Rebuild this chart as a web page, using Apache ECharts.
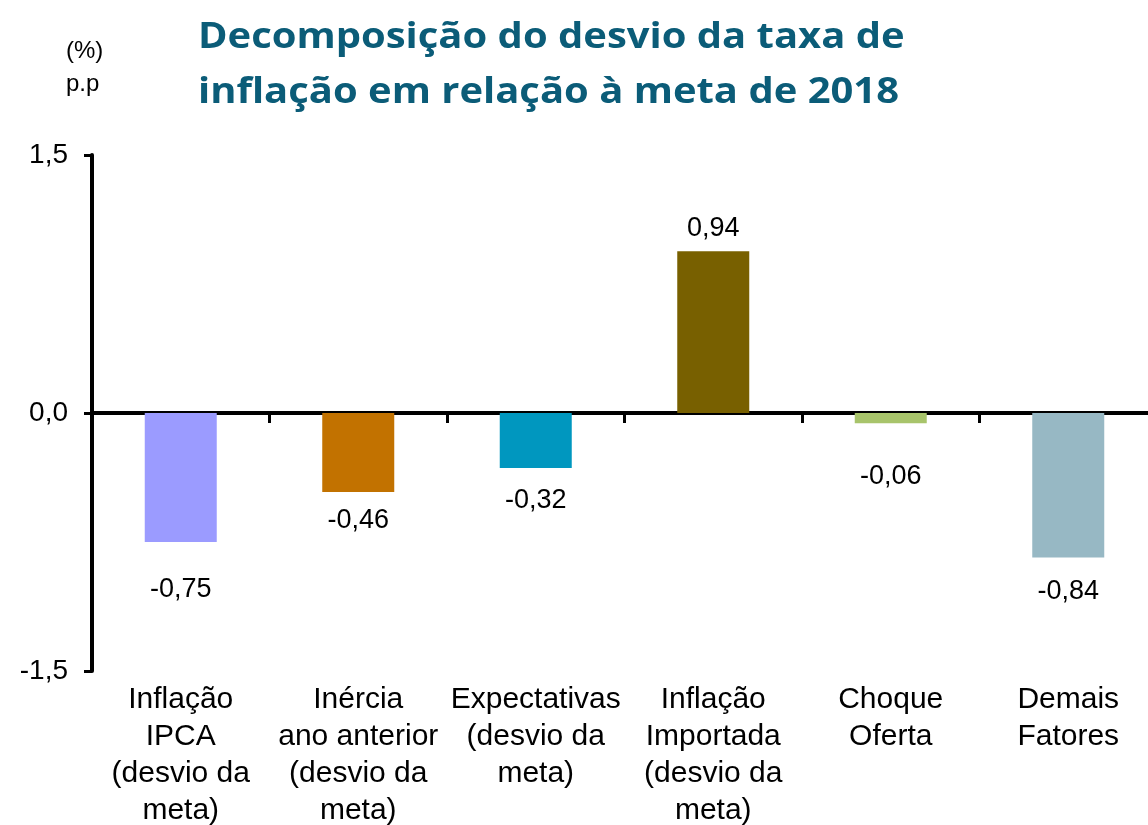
<!DOCTYPE html>
<html>
<head>
<meta charset="utf-8">
<script src="https://cdn.jsdelivr.net/npm/echarts@6/dist/echarts.min.js"></script>
<style>
  html, body { margin: 0; padding: 0; background: #fff; }
  #chart { width: 1148px; height: 825px; }
</style>
</head>
<body>
<div id="chart"></div>
<script>
// Decomposition of the 2018 inflation deviation from target, in p.p.
const categories = [
  'Inflação\nIPCA\n(desvio da\nmeta)',
  'Inércia\nano anterior\n(desvio da\nmeta)',
  'Expectativas\n(desvio da\nmeta)',
  'Inflação\nImportada\n(desvio da\nmeta)',
  'Choque\nOferta',
  'Demais\nFatores'
];
const values = [-0.75, -0.46, -0.32, 0.94, -0.06, -0.84];
const barColors = ['#9B9BFF', '#C27200', '#0097BF', '#786000', '#A8C46B', '#97B8C4'];
// gap between each bar end and its value label
const labelGaps = [34, 15, 19, 9, 40, 21];
const yTicks = [-1.5, 0, 1.5];
const titleText = 'Decomposição do desvio da taxa de\ninflação em relação à meta de 2018';

const fmt = v => v.toFixed(2).replace('.', ',');
const baseFont = 'Liberation Sans, Arial, sans-serif';

const chart = echarts.init(document.getElementById('chart'), null, { renderer: 'canvas' });

chart.setOption({
  backgroundColor: '#ffffff',
  animation: false,
  graphic: [{
    // title, slightly widened
    type: 'text',
    x: 198,
    y: 10,
    scaleX: 1.11,
    style: {
      text: titleText,
      font: 'bold 36px "Open Sans", Lato, sans-serif',
      lineHeight: 55,
      fill: '#0B5C78',
      align: 'left',
      verticalAlign: 'top'
    }
  }, {
    type: 'text',
    left: 66,
    top: 35,
    style: {
      text: '(%)\np.p',
      font: '24px ' + baseFont,
      lineHeight: 33,
      align: 'center',
      fill: '#000'
    }
  }],
  grid: { left: 92, right: -9, top: 155, bottom: 154, containLabel: false, outerBoundsMode: 'none' },
  xAxis: [{
    type: 'category',
    data: categories,
    position: 'bottom',
    axisLine: { show: false, onZero: false },
    axisTick: { show: false },
    axisLabel: {
      interval: 0,
      margin: 10,
      fontFamily: baseFont,
      fontSize: 30,
      lineHeight: 37,
      color: '#000'
    }
  }, {
    type: 'category',
    data: categories,
    position: 'bottom',
    axisLine: { show: true, onZero: true, lineStyle: { color: '#000', width: 4 } },
    axisTick: { show: true, inside: false, length: 10, lineStyle: { color: '#000', width: 3 } },
    axisLabel: { show: false }
  }],
  yAxis: {
    type: 'value',
    min: yTicks[0],
    max: yTicks[yTicks.length - 1],
    interval: 1.5,
    splitLine: { show: false },
    axisLine: { show: true, lineStyle: { color: '#000', width: 4 } },
    axisTick: { show: true, length: 8, lineStyle: { color: '#000', width: 3 } },
    axisLabel: {
      margin: 24,
      fontFamily: baseFont,
      fontSize: 28,
      color: '#000',
      formatter: v => v.toFixed(1).replace('.', ',')
    }
  },
  series: [{
    type: 'bar',
    xAxisIndex: 0,
    barWidth: 72,
    data: values.map((v, i) => ({
      value: v,
      itemStyle: { color: barColors[i] },
      label: {
        show: true,
        position: v >= 0 ? 'top' : 'bottom',
        distance: labelGaps[i],
        formatter: () => fmt(v),
        fontFamily: baseFont,
        fontSize: 27,
        color: '#000'
      }
    }))
  }]
});
</script>
</body>
</html>
